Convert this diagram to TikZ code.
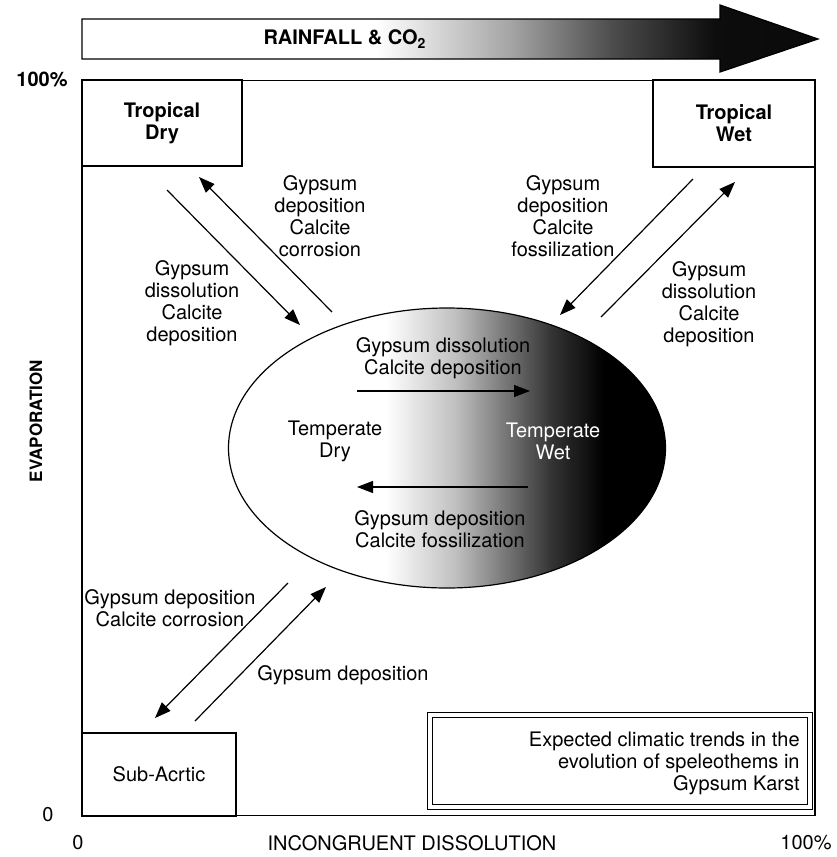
\documentclass[tikz,border=0pt]{standalone}
\usepackage{fontspec}
\setmainfont{TeX Gyre Heros}
\usetikzlibrary{arrows.meta,shapes.geometric}

% horizontal greys, white on the left and black on the right
\pgfdeclarehorizontalshading{rainshade}{100bp}{color(0bp)=(white); color(45bp)=(white); color(54bp)=(black!35); color(61bp)=(black!70); color(68bp)=(black!95); color(100bp)=(black)}
\pgfdeclarehorizontalshading{eggshade}{100bp}{color(0bp)=(white); color(43bp)=(white); color(51bp)=(black!25); color(57bp)=(black!55); color(62bp)=(black!80); color(68bp)=(black); color(100bp)=(black)}

\tikzset{
    lbl/.style={font=\fontsize{10}{11}\selectfont, align=center, inner sep=0pt},
    bold lbl/.style={lbl, font=\fontsize{10}{11}\selectfont\bfseries},
    climate/.style={draw, line width=0.6pt, inner sep=0pt, align=center, font=\fontsize{10}{11}\selectfont\bfseries},
    flow/.style={line width=0.6pt, -{Triangle[length=8pt,width=6pt]}},
}

\begin{document}
\begin{tikzpicture}[x=0.5pt, y=-0.5pt]
    \useasboundingbox[fill=white] (0,0) rectangle (836,857);

    % rainfall arrow
    \shade[shading=rainshade, draw, line width=0.6pt] (82,19) -- (720,19) -- (720,5) -- (818,39) -- (720,72) -- (720,59) -- (82,59) -- cycle;
    \node[bold lbl] (rain) at (345,39) {RAINFALL \& CO\textsubscript{2}};

    % frame and axes
    \node[draw, line width=0.6pt, minimum width=366.5pt, minimum height=367.5pt] (frame) at (448.5,447.75) {};
    \node[bold lbl] (ytop) at (42,79) {100\%};
    \node[lbl] (yzero) at (48,815) {0};
    \node[lbl] (xzero) at (78,843) {0};
    \node[lbl] (xtop) at (806,843) {100\%};
    \node[lbl] (xaxis) at (412,843) {INCONGRUENT DISSOLUTION};
    \node[bold lbl, font=\fontsize{8.5}{10}\selectfont\bfseries, rotate=90] (yaxis) at (36,421) {EVAPORATION};

    % climates
    \node[climate, minimum width=80pt, minimum height=43pt] (trdry) at (162,123) {Tropical\\Dry};
    \node[climate, minimum width=81pt, minimum height=43.5pt] (trwet) at (734,123.5) {Tropical\\Wet};
    \node[climate, font=\fontsize{10}{11}\selectfont, minimum width=77pt, minimum height=41.5pt] (arctic) at (159,774.5) {Sub-Acrtic};
    \node[ellipse, draw, line width=0.6pt, shade, shading=eggshade, inner sep=0pt, minimum width=218.5pt, minimum height=140pt] (egg) at (447,448) {};
    \node[lbl] (tdry) at (335,441) {Temperate\\Dry};
    \node[lbl, text=white] (twet) at (553,441) {Temperate\\Wet};

    % arrow ends
    \coordinate (dry1) at (167,190);   \coordinate (egg1) at (300,325);
    \coordinate (egg2) at (332,312);   \coordinate (dry2) at (199,177);
    \coordinate (wet1) at (693,179);   \coordinate (egg3) at (560,315);
    \coordinate (egg4) at (601,317);   \coordinate (wet2) at (735,182);
    \coordinate (egg5) at (288,583);   \coordinate (arc1) at (155,718);
    \coordinate (arc2) at (195,721);   \coordinate (egg6) at (326,587);
    \coordinate (dr1) at (357,391);    \coordinate (wt1) at (530,391);
    \coordinate (wt2) at (528,487);    \coordinate (dr2) at (357,487);

    \draw[flow] (dry1) -- (egg1);
    \draw[flow] (egg2) -- (dry2);
    \draw[flow] (wet1) -- (egg3);
    \draw[flow] (egg4) -- (wet2);
    \draw[flow] (egg5) -- (arc1);
    \draw[flow] (arc2) -- (egg6);
    \draw[flow] (dr1) -- (wt1);
    \draw[flow] (wt2) -- (dr2);

    % what happens along each path
    \node[lbl] (lbl1) at (192,303) {Gypsum\\dissolution\\Calcite\\deposition};
    \node[lbl] (lbl2) at (320,216) {Gypsum\\deposition\\Calcite\\corrosion};
    \node[lbl] (lbl3) at (563,216) {Gypsum\\deposition\\Calcite\\fossilization};
    \node[lbl] (lbl4) at (709,304) {Gypsum\\dissolution\\Calcite\\deposition};
    \node[lbl] (lbl5) at (170,608) {Gypsum deposition\\Calcite corrosion};
    \node[lbl] (lbl6) at (343,675) {Gypsum deposition};
    \node[lbl] (lbl7) at (443,358) {Gypsum dissolution\\Calcite deposition};
    \node[lbl] (lbl8) at (440,529) {Gypsum deposition\\Calcite fossilization};

    % caption box
    \node[draw, double, double distance=1.6pt, line width=0.5pt, minimum width=190pt, minimum height=46pt] (note) at (620,761) {};
    \node[lbl, align=right, anchor=east] (notetext) at (800,763) {Expected climatic trends in the\\evolution of speleothems in\\Gypsum Karst};
\end{tikzpicture}
\end{document}
